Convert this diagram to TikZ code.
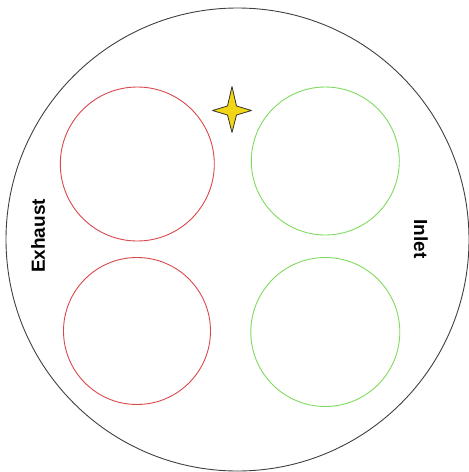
\documentclass[tikz,border=0pt]{standalone}
\usepackage{fontspec}
\setmainfont{Liberation Sans}
\definecolor{redc}{HTML}{D9474B}
\definecolor{greenc}{HTML}{7FDB5E}
\definecolor{stary}{HTML}{F2D515}
\begin{document}
\begin{tikzpicture}[x=1pt,y=-1pt,
  port/.style={circle,draw,inner sep=0pt,line width=0.9pt},
  lbl/.style={font=\bfseries\fontsize{19}{19}\selectfont,inner sep=0pt}]
\useasboundingbox (0,0) rectangle (469,472);
\node[circle,draw=black!75,line width=0.9pt,inner sep=0pt,minimum size=463pt] (body) at (237.5,239.5) {};
\node[port,draw=redc,minimum size=154pt] (ex1) at (137.3,164) {};
\node[port,draw=redc,minimum size=147pt] (ex2) at (137,331) {};
\node[port,draw=greenc,minimum size=148pt] (in1) at (325.3,161) {};
\node[port,draw=greenc,minimum size=149pt] (in2) at (325.3,332) {};
\node[lbl,rotate=90] (exh) at (38,236) {Exhaust};
\node[lbl,rotate=-90] (inl) at (421,239) {Inlet};
\coordinate (st) at (232,110.5);
\draw[fill=stary,draw=black!80,line width=0.8pt,line join=round]
  ([shift={(0,-24)}]st) -- ([shift={(4.5,-4.5)}]st) -- ([shift={(19.5,0)}]st)
  -- ([shift={(4.5,4.5)}]st) -- ([shift={(0,22)}]st) -- ([shift={(-4.5,4.5)}]st)
  -- ([shift={(-19.5,0)}]st) -- ([shift={(-4.5,-4.5)}]st) -- cycle;
\end{tikzpicture}
\end{document}
